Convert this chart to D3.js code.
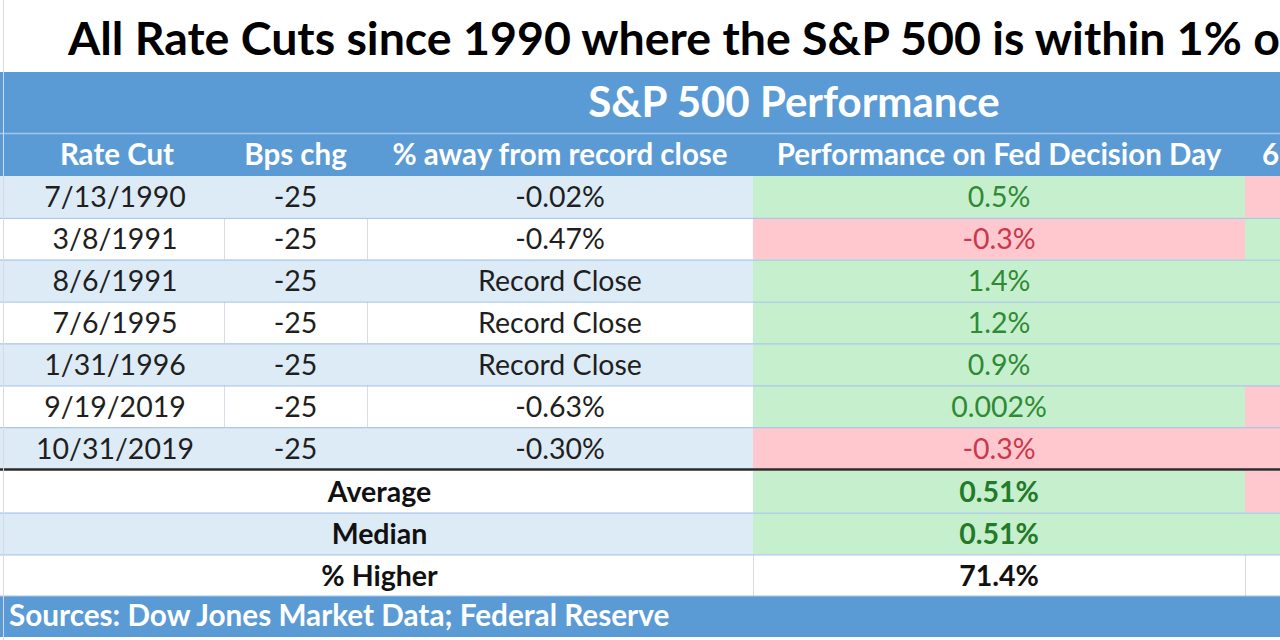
<!DOCTYPE html>
<html>
<head>
<meta charset="utf-8">
<script src="https://cdn.jsdelivr.net/npm/d3@7"></script>
<style>
  html, body { margin: 0; padding: 0; background: #fff; }
  svg { display: block; }
  text { font-family: Lato, "Noto Sans", sans-serif; }
</style>
</head>
<body>
<svg id="chart" width="1280" height="640"></svg>
<script>
// ---- data ----
const title = "All Rate Cuts since 1990 where the S&P 500 is within 1% of a record close";
const groupHeader = "S&P 500 Performance";
const columnHeaders = ["Rate Cut", "Bps chg", "% away from record close", "Performance on Fed Decision Day", "6 Months Later"];
const rateCuts = ["7/13/1990", "3/8/1991", "8/6/1991", "7/6/1995", "1/31/1996", "9/19/2019", "10/31/2019"];
const bpsChg = [-25, -25, -25, -25, -25, -25, -25];
const awayFromRecord = ["-0.02%", "-0.47%", "Record Close", "Record Close", "Record Close", "-0.63%", "-0.30%"];
const fedDayPerf = ["0.5%", "-0.3%", "1.4%", "1.2%", "0.9%", "0.002%", "-0.3%"];
const fedDaySign = [1, -1, 1, 1, 1, 1, -1];
const laterSign = [-1, 1, 1, 1, 1, -1, -1];
const summaryLabels = ["Average", "Median", "% Higher"];
const summaryFedDay = ["0.51%", "0.51%", "71.4%"];
const summaryFedSign = [1, 1, 0];
const summaryLaterSign = [-1, 1, 0];
const source = "Sources: Dow Jones Market Data; Federal Reserve";

// ---- style ----
const C = {
  blue: "#5b9bd5", lightBlue: "#ddebf7", white: "#ffffff",
  green: "#c6efce", pink: "#ffc7ce",
  greenText: "#2f8a34", redText: "#c63a4c", text: "#1f1f1f",
  rowLine: "#a9c8e8", colLine: "#d6dde6"
};

const svg = d3.select("#chart");
const W = 1280;

// column edges
const colEdges = [0, 224, 367, 753, 1245, 1560];
const colX = i => colEdges[i];
const colW = i => colEdges[i + 1] - colEdges[i];
const colC = i => (colEdges[i] + colEdges[i + 1]) / 2;

// row scales
const yData = d3.scaleBand().domain(d3.range(rateCuts.length)).range([176, 469]).padding(0);
const ySum = d3.scaleBand().domain(d3.range(summaryLabels.length)).range([471, 596]).padding(0);

const fillFor = s => s > 0 ? C.green : s < 0 ? C.pink : C.white;
const textFor = s => s > 0 ? C.greenText : s < 0 ? C.redText : C.text;

// title
svg.append("text").attr("x", 68).attr("y", 55)
  .attr("font-size", 46.5).attr("font-weight", 700).attr("fill", "#000")
  .text(title);

// header bands
svg.append("rect").attr("x", 0).attr("y", 72).attr("width", W).attr("height", 62).attr("fill", C.blue);
svg.append("rect").attr("x", 0).attr("y", 134).attr("width", W).attr("height", 42).attr("fill", C.blue);
svg.append("line").attr("x1", 0).attr("x2", W).attr("y1", 133.5).attr("y2", 133.5)
  .attr("stroke", "#a3c6ea").attr("stroke-width", 1.5);
svg.append("text").attr("x", 794).attr("y", 117).attr("text-anchor", "middle")
  .attr("font-size", 42).attr("font-weight", 700).attr("fill", "#fff").text(groupHeader);

columnHeaders.forEach((h, i) => {
  const t = svg.append("text").attr("y", 165).attr("font-size", 29.5).attr("font-weight", 700)
    .attr("fill", "#fff").text(h);
  if (i < 4) t.attr("x", colC(i) + (i === 0 ? 5 : 0)).attr("text-anchor", "middle");
  else t.attr("x", colX(i) + 17).attr("text-anchor", "start");
});

// data rows
const rows = svg.append("g");
rateCuts.forEach((d, r) => {
  const y = yData(r), h = yData.bandwidth();
  const base = r % 2 === 0 ? C.lightBlue : C.white;
  rows.append("rect").attr("x", 0).attr("y", y).attr("width", colEdges[3]).attr("height", h).attr("fill", base);
  rows.append("rect").attr("x", colX(3)).attr("y", y).attr("width", colW(3)).attr("height", h).attr("fill", fillFor(fedDaySign[r]));
  rows.append("rect").attr("x", colX(4)).attr("y", y).attr("width", colW(4)).attr("height", h).attr("fill", fillFor(laterSign[r]));
  if (r % 2 === 1) {
    [1, 2].forEach(c => rows.append("line").attr("x1", colX(c) + 0.5).attr("x2", colX(c) + 0.5)
      .attr("y1", y).attr("y2", y + h).attr("stroke", C.colLine));
  }
  const ty = y + h / 2 + 10.5;
  const cells = [d, String(bpsChg[r]), awayFromRecord[r]];
  cells.forEach((v, c) => rows.append("text").attr("x", colC(c) + (c === 0 ? 3 : 0)).attr("y", ty)
    .attr("text-anchor", "middle").attr("font-size", 28.5).attr("fill", C.text).text(v));
  rows.append("text").attr("x", colC(3)).attr("y", ty).attr("text-anchor", "middle")
    .attr("font-size", 28.5).attr("fill", textFor(fedDaySign[r])).text(fedDayPerf[r]);
  if (r > 0) rows.append("line").attr("x1", 0).attr("x2", W).attr("y1", y + 0.5).attr("y2", y + 0.5)
    .attr("stroke", C.rowLine).attr("stroke-width", 1.2);
});

// thick separator
svg.append("line").attr("x1", 0).attr("x2", W).attr("y1", 469.5).attr("y2", 469.5)
  .attr("stroke", "#2b2b2b").attr("stroke-width", 2.5);

// summary rows
summaryLabels.forEach((d, r) => {
  const y = ySum(r), h = ySum.bandwidth();
  const base = r % 2 === 1 ? C.lightBlue : C.white;
  svg.append("rect").attr("x", 0).attr("y", y).attr("width", colEdges[3]).attr("height", h).attr("fill", base);
  svg.append("rect").attr("x", colX(3)).attr("y", y).attr("width", colW(3)).attr("height", h).attr("fill", fillFor(summaryFedSign[r]));
  svg.append("rect").attr("x", colX(4)).attr("y", y).attr("width", colW(4)).attr("height", h).attr("fill", fillFor(summaryLaterSign[r]));
  if (summaryFedSign[r] === 0) {
    [3, 4].forEach(c => svg.append("line").attr("x1", colX(c) + 0.5).attr("x2", colX(c) + 0.5)
      .attr("y1", y).attr("y2", y + h).attr("stroke", C.colLine));
  }
  if (r > 0) svg.append("line").attr("x1", 0).attr("x2", W).attr("y1", y + 0.5).attr("y2", y + 0.5)
    .attr("stroke", C.rowLine).attr("stroke-width", 1.2);
  const ty = y + h / 2 + 10.5;
  svg.append("text").attr("x", colEdges[3] / 2 + 3).attr("y", ty).attr("text-anchor", "middle")
    .attr("font-size", 28.5).attr("font-weight", 700).attr("fill", "#111").text(d);
  svg.append("text").attr("x", colC(3)).attr("y", ty).attr("text-anchor", "middle")
    .attr("font-size", 28.5).attr("font-weight", 700)
    .attr("fill", summaryFedSign[r] === 0 ? "#111" : "#237a28").text(summaryFedDay[r]);
});

// sources band
svg.append("rect").attr("x", 0).attr("y", 596).attr("width", W).attr("height", 41).attr("fill", C.blue);
svg.append("line").attr("x1", 0).attr("x2", W).attr("y1", 596).attr("y2", 596).attr("stroke", "#a3c6ea");
svg.append("text").attr("x", 9).attr("y", 626).attr("font-size", 29.7).attr("font-weight", 700)
  .attr("fill", "#fff").text(source);

// faint left border
svg.append("line").attr("x1", 3.5).attr("x2", 3.5).attr("y1", 0).attr("y2", 640)
  .attr("stroke", "#d4dbe4").attr("stroke-width", 1);
</script>
</body>
</html>
